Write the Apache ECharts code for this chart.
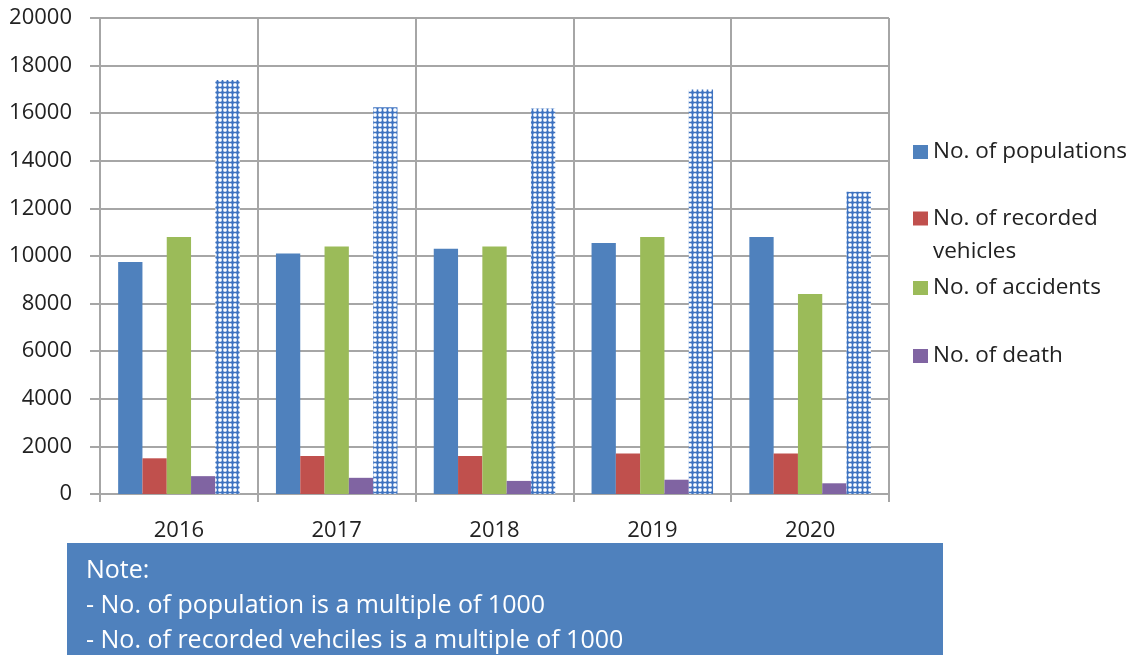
<!DOCTYPE html>
<html><head><meta charset="utf-8">
<script src="https://cdn.jsdelivr.net/npm/echarts@6/dist/echarts.min.js"></script>
<style>html,body{margin:0;padding:0;background:#fff}#c{width:1137px;height:655px}</style>
</head><body><div id="c"></div>
<script>
const categories = ['2016','2017','2018','2019','2020'];
const populations = [9750, 10100, 10300, 10550, 10800];
const recordedVehicles = [1500, 1600, 1600, 1700, 1700];
const accidents = [10800, 10400, 10400, 10800, 8400];
const deaths = [750, 680, 550, 600, 450];
const unlabeled = [17400, 16250, 16200, 17000, 12700];
const yTicks = [0, 2000, 4000, 6000, 8000, 10000, 12000, 14000, 16000, 18000, 20000];
const noteLines = ['Note:', '- No. of population is a multiple of 1000', '- No. of recorded vehciles is a multiple of 1000'];

const FONT = 'Open Sans';
const GRID = '#a6a6a6';

// hatched pattern: blue lattice of small crosses with white gaps
const pc = document.createElement('canvas');
pc.width = 5; pc.height = 5;
const g = pc.getContext('2d');
g.fillStyle = '#6e97d2'; g.fillRect(0,0,5,5);
g.fillStyle = '#3f73c0';
g.fillRect(2,0,1,5); g.fillRect(0,2,5,1);
g.fillStyle = '#ffffff';
[[0,0],[4,4],[0,4],[4,0]].forEach(p => g.fillRect(p[0],p[1],1,1));
g.fillStyle = '#c8d8f0';
[[1,0],[0,1],[3,0],[4,1],[0,3],[1,4],[3,4],[4,3]].forEach(p => g.fillRect(p[0],p[1],1,1));

const chart = echarts.init(document.getElementById('c'), null, {renderer:'canvas'});
const legendBase = {orient:'vertical', left: 913, padding:0, itemWidth: 15, itemHeight: 14, itemGap: 0,
  textStyle:{fontFamily:FONT, fontSize:22.5, color:'#222', lineHeight:24}, icon:'rect', selectedMode:false};
chart.setOption({
  animation:false,
  grid:{left:100, right:248, top:18, bottom:161},
  legend:[
    Object.assign({}, legendBase, {top:140, data:['No. of populations']}),
    Object.assign({}, legendBase, {top:169, data:['No. of recorded vehicles'],
      formatter:()=>'\nNo. of recorded\nvehicles',
      textStyle:{fontFamily:FONT, fontSize:22.5, color:'#222', lineHeight:33}}),
    Object.assign({}, legendBase, {top:276, data:['No. of accidents']}),
    Object.assign({}, legendBase, {top:344, data:['No. of death']})
  ],
  xAxis:{type:'category', data:categories, boundaryGap:true,
    axisLine:{show:true, lineStyle:{color:GRID, width:2}},
    axisTick:{show:true, length:8, lineStyle:{color:GRID, width:2}},
    splitLine:{show:true, lineStyle:{color:GRID, width:2}},
    axisLabel:{fontFamily:FONT, fontSize:22, color:'#222', margin:26}},
  yAxis:{type:'value', min:yTicks[0], max:yTicks[yTicks.length-1], interval:2000,
    axisLine:{show:true, lineStyle:{color:GRID, width:2}},
    axisTick:{show:true, length:10, lineStyle:{color:GRID, width:2}},
    splitLine:{show:true, lineStyle:{color:GRID, width:2}},
    axisLabel:{fontFamily:FONT, fontSize:22, color:'#222', margin:28, formatter:v=>String(v)}},
  series:[
    {name:'No. of populations', type:'bar', data:populations, itemStyle:{color:'#4f81bd'}, barGap:'0%', barCategoryGap:'23%'},
    {name:'No. of recorded vehicles', type:'bar', data:recordedVehicles, itemStyle:{color:'#c0504d'}},
    {name:'No. of accidents', type:'bar', data:accidents, itemStyle:{color:'#9bbb59'}},
    {name:'No. of death', type:'bar', data:deaths, itemStyle:{color:'#8064a2'}},
    {name:'Unlabeled', type:'bar', data:unlabeled, itemStyle:{color:{image:pc, repeat:'repeat'}}}
  ],
  graphic:[
    {type:'rect', shape:{x:67, y:543, width:876, height:112}, style:{fill:'#4f81bd'}},
    ...noteLines.map((t,i)=>({type:'text', x:86, y:571 + i*35, style:{text:t, fill:'#fff', font:'25px "'+FONT+'"', verticalAlign:'middle'}}))
  ]
});
</script></body></html>
